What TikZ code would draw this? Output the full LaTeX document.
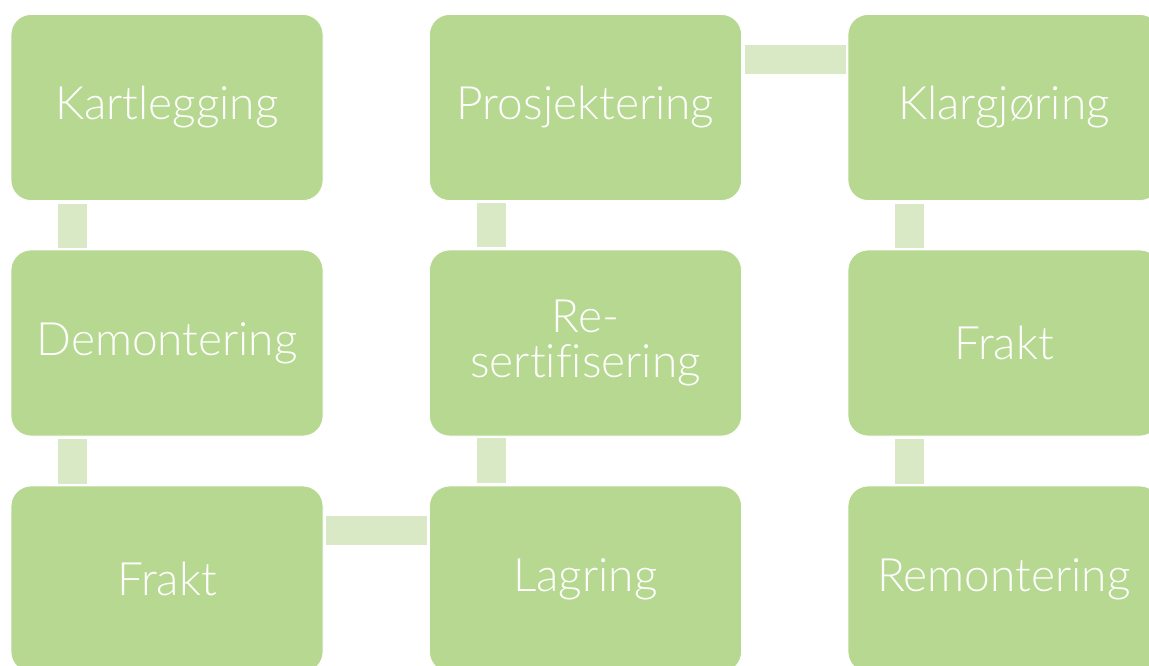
\documentclass[tikz,border=0pt]{standalone}
\usepackage{fontspec}
\setmainfont{Lato}[UprightFont=* Light, Ligatures=NoCommon]
\definecolor{stepgreen}{RGB}{182,216,144}
\definecolor{linkgreen}{RGB}{217,233,198}
\begin{document}
\begin{tikzpicture}[x=1pt,y=-1pt,
        stepbox/.style={fill=stepgreen, draw=white, line width=0.8pt, rounded corners=20pt,
            minimum width=312pt, minimum height=186pt, text=white, align=center,
            font=\fontsize{46}{45}\selectfont},
        link/.style={draw=linkgreen, line width=29pt, shorten <=3pt, shorten >=2pt}]
    \clip (0,0) rectangle (1149,666);
    % column 1
    \node[stepbox] (kart) at (167,107.5) {Kartlegging};
    \node[stepbox] (demont) at (167,343) {Demontering};
    \node[stepbox] (frakta) at (167,579) {Frakt};
    % column 2
    \node[stepbox] (prosj) at (585.5,107.5) {Prosjektering};
    \node[stepbox] (resert) at (585.5,343) {Re-\\sertifisering};
    \node[stepbox] (lagring) at (585.5,579) {Lagring};
    % column 3
    \node[stepbox] (klarg) at (1004,107.5) {Klargjøring};
    \node[stepbox] (fraktb) at (1004,343) {Frakt};
    \node[stepbox] (remont) at (1004,579) {Remontering};
    % links
    \draw[link] ([xshift=62pt]kart.south west) -- ([xshift=62pt]demont.north west);
    \draw[link] ([xshift=62pt]demont.south west) -- ([xshift=62pt]frakta.north west);
    \draw[link] ([yshift=-45pt]frakta.north east) -- ([yshift=-45pt]lagring.north west);
    \draw[link] ([xshift=62pt]lagring.north west) -- ([xshift=62pt]resert.south west);
    \draw[link] ([xshift=62pt]resert.north west) -- ([xshift=62pt]prosj.south west);
    \draw[link] ([yshift=-45pt]prosj.north east) -- ([yshift=-45pt]klarg.north west);
    \draw[link] ([xshift=62pt]klarg.south west) -- ([xshift=62pt]fraktb.north west);
    \draw[link] ([xshift=62pt]fraktb.south west) -- ([xshift=62pt]remont.north west);
\end{tikzpicture}
\end{document}
